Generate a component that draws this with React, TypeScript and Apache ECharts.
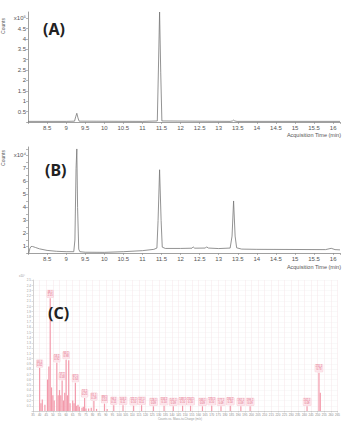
import React, { useEffect, useRef } from "react";
import * as echarts from "echarts";

// Panel A chromatogram (time in min, counts x10^5)
const aTime = [8.0, 9.0, 9.22, 9.25, 9.28, 9.31, 9.34, 11.0, 11.39, 11.42, 11.45, 11.48, 11.51, 13.3, 13.36, 13.39, 13.42, 13.48, 16.18];
const aCounts = [0.03, 0.03, 0.04, 0.25, 0.42, 0.2, 0.04, 0.03, 0.05, 2.6, 5.3, 2.4, 0.05, 0.03, 0.05, 0.09, 0.05, 0.03, 0.03];

// Panel B chromatogram (time in min, counts x10^4)
const bTime = [8.02, 8.05, 8.08, 8.12, 8.2, 8.3, 8.5, 8.75, 9.0, 9.2, 9.23, 9.26, 9.28, 9.3, 9.33, 9.36, 9.5, 10.0, 10.5, 11.0, 11.3, 11.38, 11.41, 11.45, 11.49, 11.52, 11.6, 12.0, 12.3, 12.33, 12.37, 12.65, 12.68, 12.73, 13.0, 13.3, 13.35, 13.39, 13.43, 13.47, 13.6, 14.0, 15.0, 15.8, 15.95, 16.05, 16.18];
const bCounts = [0.5, 0.85, 1.0, 1.0, 0.92, 0.82, 0.7, 0.63, 0.6, 0.6, 1.5, 7.0, 8.5, 4.0, 0.8, 0.6, 0.56, 0.55, 0.6, 0.68, 0.78, 0.88, 3.0, 6.9, 3.0, 0.95, 0.85, 0.85, 0.87, 0.97, 0.87, 0.88, 0.97, 0.88, 0.84, 0.88, 1.8, 4.5, 1.8, 0.9, 0.8, 0.78, 0.77, 0.76, 0.86, 0.76, 0.74];

// Panel C mass spectrum (m/z, abundance)
const msMz = [40, 41, 42, 44, 46, 47, 48, 49, 50, 51, 53, 54, 55, 56, 57, 58, 59, 60, 61, 62, 63, 65, 66, 67, 68, 69, 70, 72, 73, 74, 75, 77, 79, 81, 83, 89, 91, 96, 103, 111, 117, 126, 134, 141, 148, 154, 163, 170, 177, 184, 192, 199, 242, 251, 252];
const msAbund = [0.82, 0.15, 0.22, 0.12, 0.6, 0.85, 2.15, 0.45, 0.3, 0.2, 0.92, 0.3, 0.4, 0.3, 0.58, 0.2, 0.35, 0.98, 0.3, 0.97, 0.15, 0.2, 0.15, 0.54, 0.1, 0.12, 0.08, 0.06, 0.08, 0.25, 0.05, 0.05, 0.06, 0.19, 0.04, 0.14, 0.04, 0.11, 0.11, 0.1, 0.11, 0.09, 0.1, 0.09, 0.1, 0.1, 0.09, 0.1, 0.09, 0.1, 0.09, 0.09, 0.09, 0.73, 0.35];
const msLabeled = [40, 48, 53, 57, 60, 67, 74, 81, 89, 96, 103, 111, 117, 126, 134, 141, 148, 154, 163, 170, 177, 184, 192, 199, 242, 251];

const timeTicksHidden = [8];

const GRAY = "#555";
const PINK = "#f39aab";

export default function App() {
  const ref = useRef<HTMLDivElement>(null);
  useEffect(() => {
    document.body.style.margin = "0";
    const chart = echarts.init(ref.current!, null, { renderer: "svg" });
    const isHalf = (v: number) => Math.abs(v * 2 - Math.round(v * 2)) < 1e-6;
    const timeFmt = (v: number) => (isHalf(v) && !timeTicksHidden.includes(v) ? String(v) : "");
    const font = "Liberation Sans";

    const timeAxis = (gi: number) => ({
      type: "value",
      gridIndex: gi,
      min: 8,
      max: 16.18,
      interval: 0.5,
      axisLine: { lineStyle: { color: "#888", width: 0.8 } },
      axisTick: { length: 2, lineStyle: { color: "#888", width: 0.6 } },
      axisLabel: { fontSize: 6, color: GRAY, margin: 3, fontFamily: font, formatter: timeFmt, showMaxLabel: true },
      splitLine: { show: false },
    });

    const msData = msMz.map((m, i) => {
      const lab = msLabeled.includes(m);
      return {
        value: [m, msAbund[i]],
        label: lab
          ? {
              show: true,
              position: "top",
              distance: 1,
              formatter: `${m}.1\n${msAbund[i].toFixed(2)}`,
              fontSize: 2.6,
              lineHeight: 3,
              color: "#e0607a",
              backgroundColor: "#fde6ec",
              borderColor: "#f4b0be",
              borderWidth: 0.3,
              padding: [0.5, 0.5],
              fontFamily: font,
            }
          : { show: false },
      };
    });

    chart.setOption({
      animation: false,
      backgroundColor: "#fff",
      grid: [
        { left: 28, top: 12, width: 312, height: 110 },
        { left: 28, top: 147, width: 312, height: 106 },
        { left: 33, top: 280, width: 307, height: 131 },
      ],
      xAxis: [
        timeAxis(0),
        timeAxis(1),
        {
          type: "value",
          gridIndex: 2,
          min: 35,
          max: 265,
          interval: 5,
          axisLine: { lineStyle: { color: "#bbb", width: 0.6 } },
          axisTick: { length: 1.5, lineStyle: { color: "#bbb", width: 0.5 } },
          axisLabel: { fontSize: 3, color: "#888", margin: 2, fontFamily: font },
          splitLine: { show: true, lineStyle: { color: "#f7e4e8", width: 0.5 } },
        },
      ],
      yAxis: [
        {
          type: "value",
          gridIndex: 0,
          min: 0,
          max: 5.3,
          interval: 0.5,
          axisLine: { show: true, lineStyle: { color: "#888", width: 0.8 } },
          axisTick: { show: true, length: 2, lineStyle: { color: "#888", width: 0.6 } },
          axisLabel: {
            fontSize: 6,
            color: GRAY,
            margin: 2,
            fontFamily: font,
            showMaxLabel: false,
            formatter: (v: number) => (v === 0 || !isHalf(v) ? "" : v === 5 ? "x10⁵" : String(v)),
          },
          splitLine: { show: false },
        },
        {
          type: "value",
          gridIndex: 1,
          min: 0.5,
          max: 8.65,
          interval: 0.5,
          axisLine: { show: true, lineStyle: { color: "#888", width: 0.8 } },
          axisTick: { show: true, length: 2, lineStyle: { color: "#888", width: 0.6 } },
          axisLabel: {
            fontSize: 6,
            color: GRAY,
            margin: 2,
            fontFamily: font,
            showMaxLabel: false,
            formatter: (v: number) => (!Number.isInteger(v) ? "" : v === 8 ? "x10⁴" : String(v)),
          },
          splitLine: { show: false },
        },
        {
          type: "value",
          gridIndex: 2,
          min: 0,
          max: 2.5,
          interval: 0.1,
          axisLine: { show: true, lineStyle: { color: "#bbb", width: 0.6 } },
          axisTick: { show: true, length: 1.5, lineStyle: { color: "#bbb", width: 0.5 } },
          axisLabel: {
            fontSize: 3,
            color: "#999",
            margin: 2,
            fontFamily: font,
            formatter: (v: number) => (v === 0 ? "" : v.toFixed(1)),
          },
          splitLine: { show: true, lineStyle: { color: "#f2f2f2", width: 0.5 } },
        },
      ],
      series: [
        {
          type: "line",
          xAxisIndex: 0,
          yAxisIndex: 0,
          data: aTime.map((t, i) => [t, aCounts[i]]),
          showSymbol: false,
          lineStyle: { color: "#777", width: 0.8 },
        },
        {
          type: "line",
          xAxisIndex: 1,
          yAxisIndex: 1,
          data: bTime.map((t, i) => [t, bCounts[i]]),
          showSymbol: false,
          lineStyle: { color: "#777", width: 0.8 },
        },
        {
          type: "bar",
          xAxisIndex: 2,
          yAxisIndex: 2,
          data: msData,
          barWidth: 1.2,
          itemStyle: { color: PINK },
        },
      ],
      graphic: [
        { type: "text", z: 100, left: 43, top: 21, style: { text: "(A)", fontSize: 16, fontWeight: "bold", fill: "#222", fontFamily: "Noto Sans" } },
        { type: "text", z: 100, left: 45, top: 162, style: { text: "(B)", fontSize: 16, fontWeight: "bold", fill: "#222", fontFamily: "Noto Sans" } },
        { type: "text", z: 100, left: 48, top: 305, style: { text: "(C)", fontSize: 16, fontWeight: "bold", fill: "#222", fontFamily: "Noto Sans" } },
        { type: "text", x: 3, y: 26, rotation: Math.PI / 2, style: { text: "Counts", fontSize: 5, fill: GRAY, fontFamily: font, textAlign: "center", textVerticalAlign: "middle" } },
        { type: "text", x: 3, y: 158, rotation: Math.PI / 2, style: { text: "Counts", fontSize: 5, fill: GRAY, fontFamily: font, textAlign: "center", textVerticalAlign: "middle" } },
        { type: "text", x: 341, y: 135, style: { text: "Acquisition Time (min)", fontSize: 5.5, fill: GRAY, fontFamily: font, textAlign: "right", textVerticalAlign: "middle" } },
        { type: "text", x: 341, y: 267, style: { text: "Acquisition Time (min)", fontSize: 5.5, fill: GRAY, fontFamily: font, textAlign: "right", textVerticalAlign: "middle" } },
        { type: "text", x: 22, y: 276, style: { text: "x10⁴", fontSize: 3, fill: "#999", fontFamily: font, textAlign: "center", textVerticalAlign: "middle" } },
        { type: "text", x: 180, y: 419, style: { text: "Counts vs. Mass-to-Charge (m/z)", fontSize: 3, fill: "#999", fontFamily: font, textAlign: "center", textVerticalAlign: "middle" } },
      ],
    });
    return () => chart.dispose();
  }, []);
  return <div ref={ref} style={{ position: "absolute", left: 0, top: 0, width: 343, height: 422 }} />;
}
